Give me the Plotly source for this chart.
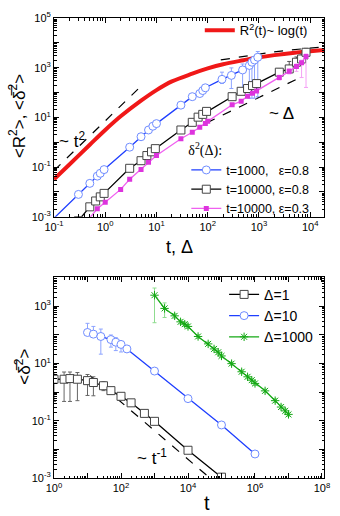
import numpy as np
import plotly.graph_objects as go

# ---------------- top panel data ----------------
red_t = [0.1, 0.2, 0.5, 1, 2, 5, 10, 20, 50, 100, 200, 500, 1000, 2000, 5000, 10000, 20000]
red_y = [0.032, 0.126, 0.79, 3.1, 11, 47, 125, 280, 575, 930, 1380, 2000, 2600, 3200, 4000, 4600, 5250]

blue_d = [0.08, 0.3, 0.5, 0.7, 0.8, 0.95, 3, 5, 7, 8.5, 10, 30, 50, 70, 80, 90,
          190, 290, 480, 650, 730, 820, 950]
blue_y = [0.00056, 0.0079, 0.022, 0.043, 0.056, 0.079, 0.63, 1.66, 3.1, 4.4, 5.6, 31, 68, 91, 120, 155,
          340, 490, 810, 1230, 1660, 2040, 2630]
blue_hi = [0.00056, 0.0079, 0.022, 0.043, 0.056, 0.079, 0.63, 1.66, 3.1, 4.4, 5.6, 31, 68, 91, 120, 155,
           660, 980, 1410, 1500, 1900, 2300, 4470]
blue_lo = [0.00056, 0.0079, 0.022, 0.043, 0.056, 0.079, 0.63, 1.66, 3.1, 4.4, 5.6, 31, 68, 91, 120, 155,
           230, 145, 126, 59, 59, 59, 68]

black_d = [0.3, 0.5, 0.65, 0.8, 0.95, 3, 5, 6.5, 8, 9.5, 30, 50, 65, 80, 95,
           300, 450, 600, 750, 900, 2500, 3900, 5400, 6800, 8300]
black_y = [0.0007, 0.0025, 0.0043, 0.0063, 0.0087, 0.089, 0.18, 0.29, 0.41, 0.55, 3.1, 6.3, 10.2, 13.2, 17.4,
           68, 112, 145, 190, 229, 660, 890, 1660, 2240, 4170]
black_hi = [0.0007, 0.0025, 0.0043, 0.0063, 0.0087, 0.089, 0.18, 0.29, 0.41, 0.55, 3.1, 6.3, 10.2, 13.2, 17.4,
            68, 112, 145, 190, 229, 890, 1780, 2700, 3550, 6000]
black_lo = [0.0007, 0.0025, 0.0043, 0.0063, 0.0087, 0.089, 0.18, 0.29, 0.41, 0.55, 3.1, 6.3, 10.2, 13.2, 17.4,
            68, 112, 145, 190, 229, 525, 710, 1120, 1410, 2240]

mag_d = [0.45, 0.7, 1, 2, 3, 5, 7, 10, 30, 50, 70, 90, 100,
         300, 450, 600, 750, 900, 2500, 3900, 5400, 6800, 8300]
mag_y = [0.0007, 0.0021, 0.0038, 0.0126, 0.032, 0.079, 0.155, 0.29, 1.38, 2.5, 4.0, 5.6, 6.9,
         32, 45, 71, 93, 115, 400, 710, 1120, 1580, 2820]
mag_hi = [0.0007, 0.0021, 0.0038, 0.0126, 0.032, 0.079, 0.155, 0.29, 1.38, 2.5, 4.0, 5.6, 6.9,
          32, 45, 71, 93, 115, 500, 890, 1410, 2000, 3550]
mag_lo = [0.0007, 0.0021, 0.0038, 0.0126, 0.032, 0.079, 0.155, 0.29, 1.38, 2.5, 4.0, 5.6, 6.9,
          32, 45, 71, 93, 115, 320, 560, 710, 400, 160]

guide_t2_x = [0.1, 4.5]
guide_t2_y = [0.072, 146]
guide_log_x = [180, 1000, 3000, 20000]
guide_log_y = [2050, 3500, 4800, 6900]
guide_lin_x = [95, 6200]
guide_lin_y = [6.0, 390]

# ---------------- bottom panel data ----------------
d1_t = [1, 2, 3, 5, 10, 15, 30, 50, 100, 200, 500, 1000, 1e4, 1e5]
d1_y = [2.8, 2.8, 2.95, 2.8, 2.5, 2.15, 1.66, 1.12, 0.71, 0.42, 0.18, 0.095, 0.0093, 0.00107]
d1_hi = [4.8, 5.0, 5.0, 4.8, 4.1, 3.4, 2.3, 1.32, 0.79, 0.42, 0.18, 0.095, 0.0093, 0.00107]
d1_lo = [0.47, 0.47, 0.47, 0.5, 0.76, 0.74, 1.12, 0.95, 0.63, 0.42, 0.18, 0.095, 0.0093, 0.00107]

d10_t = [10, 15, 25, 50, 70, 100, 150, 1000, 1e4, 1e5, 1e6]
d10_y = [120, 105, 87, 68, 55, 46, 32, 5.4, 0.59, 0.071, 0.0069]
d10_hi = [250, 195, 158, 98, 79, 56, 35, 5.4, 0.59, 0.071, 0.0069]
d10_lo = [100, 93, 21, 37, 28, 25, 30, 5.4, 0.59, 0.071, 0.0069]

d1000_t = [1000, 2000, 4000, 6000, 8000, 1e4, 2e4, 4e4, 6e4, 8e4, 1e5, 2e5, 4e5, 6e5, 8e5,
           1e6, 2e6, 4e6, 6e6, 8e6, 1e7]
d1000_y = [2400, 830, 457, 282, 234, 195, 87, 48, 32, 24.5, 18.2, 9.8, 5.1, 3.4, 2.6,
           2.0, 1.1, 0.50, 0.30, 0.22, 0.166]
d1000_hi = [4270, 1290, 540, 330, 275, 230, 100, 55, 37, 28, 21, 11.3, 5.9, 3.9, 3.0,
            2.3, 1.25, 0.58, 0.35, 0.26, 0.19]
d1000_lo = [263, 400, 380, 240, 200, 165, 75, 42, 28, 21, 15.8, 8.5, 4.4, 2.9, 2.25,
            1.7, 0.95, 0.43, 0.26, 0.19, 0.143]

guide_inv_x = [12, 6e4]
guide_inv_y = [3.75, 7.5e-4]

FONT = "Liberation Sans, Arial, sans-serif"
BLUE_L, BLUE_M = "#1f3fff", "#6f8cff"
BLACK_L, BLACK_M = "#000000", "#444444"
MAG_L, MAG_M = "#f060f0", "#dd33dd"
GREEN_L, GREEN_M = "#14a814", "#7ad87a"


def err(y, hi, lo, color):
    return dict(type="data", symmetric=False,
                array=[h - v for h, v in zip(hi, y)],
                arrayminus=[v - l for v, l in zip(y, lo)],
                color=color, thickness=1, width=2)


fig = go.Figure()

# top panel
fig.add_trace(go.Scatter(x=guide_t2_x, y=guide_t2_y, mode="lines", showlegend=False,
                         line=dict(color="black", width=1.2, dash="dash"), xaxis="x", yaxis="y"))
fig.add_trace(go.Scatter(x=guide_log_x, y=guide_log_y, mode="lines", showlegend=False,
                         line=dict(color="black", width=1.2, dash="dash", shape="spline"), xaxis="x", yaxis="y"))
fig.add_trace(go.Scatter(x=guide_lin_x, y=guide_lin_y, mode="lines", showlegend=False,
                         line=dict(color="black", width=1.2, dash="dash"), xaxis="x", yaxis="y"))
fig.add_trace(go.Scatter(x=red_t, y=red_y, mode="lines", name="R<sup>2</sup>(t)~ log(t)",
                         line=dict(color="#f01818", width=4, shape="spline"), legend="legend",
                         xaxis="x", yaxis="y"))
fig.add_trace(go.Scatter(x=blue_d, y=blue_y, mode="lines+markers",
                         name="t=1000,\u00a0\u00a0\u00a0ε=0.8", legend="legend2",
                         line=dict(color=BLUE_L, width=1.3),
                         marker=dict(symbol="circle", size=8, color="white", line=dict(color=BLUE_M, width=1)),
                         error_y=err(blue_y, blue_hi, blue_lo, "#8ea4ff"), xaxis="x", yaxis="y"))
fig.add_trace(go.Scatter(x=black_d, y=black_y, mode="lines+markers",
                         name="t=10000, ε=0.8", legend="legend2",
                         line=dict(color=BLACK_L, width=1.3),
                         marker=dict(symbol="square", size=8, color="white", line=dict(color=BLACK_M, width=1)),
                         error_y=err(black_y, black_hi, black_lo, "#555555"), xaxis="x", yaxis="y"))
fig.add_trace(go.Scatter(x=mag_d, y=mag_y, mode="lines+markers",
                         name="t=10000, ε=0.3", legend="legend2",
                         line=dict(color=MAG_L, width=1.3),
                         marker=dict(symbol="square", size=5, color=MAG_M),
                         error_y=err(mag_y, mag_hi, mag_lo, "#f5a0f5"), xaxis="x", yaxis="y"))

# bottom panel
fig.add_trace(go.Scatter(x=guide_inv_x, y=guide_inv_y, mode="lines", showlegend=False,
                         line=dict(color="black", width=1.2, dash="dash"), xaxis="x2", yaxis="y2"))
fig.add_trace(go.Scatter(x=d1_t, y=d1_y, mode="lines+markers", name="Δ=1", legend="legend3",
                         line=dict(color=BLACK_L, width=1.3),
                         marker=dict(symbol="square", size=8, color="white", line=dict(color=BLACK_M, width=1)),
                         error_y=err(d1_y, d1_hi, d1_lo, "#666666"), xaxis="x2", yaxis="y2"))
fig.add_trace(go.Scatter(x=d10_t, y=d10_y, mode="lines+markers", name="Δ=10", legend="legend3",
                         line=dict(color=BLUE_L, width=1.3),
                         marker=dict(symbol="circle", size=8, color="white", line=dict(color=BLUE_M, width=1)),
                         error_y=err(d10_y, d10_hi, d10_lo, "#8ea4ff"), xaxis="x2", yaxis="y2"))
fig.add_trace(go.Scatter(x=d1000_t, y=d1000_y, mode="lines+markers", name="Δ=1000", legend="legend3",
                         line=dict(color=GREEN_L, width=1.3),
                         marker=dict(symbol="asterisk-open", size=7, line=dict(color=GREEN_M, width=1)),
                         error_y=err(d1000_y, d1000_hi, d1000_lo, "#8fdc8f"), xaxis="x2", yaxis="y2"))


def sup(e):
    return "10<sup>%d</sup>" % e


def minor_vals(lo, hi):
    return [m * 10.0 ** e for e in range(lo, hi) for m in range(2, 10)]


def log_axis(lo, hi, label_every, rng, domain, anchor):
    vals = [10.0 ** e for e in range(lo, hi + 1)]
    text = [sup(e) if (e - lo) % label_every == 0 else "" for e in range(lo, hi + 1)]
    return dict(type="log", range=rng, domain=domain, anchor=anchor,
                tickmode="array", tickvals=vals, ticktext=text,
                ticks="inside", ticklen=5, tickwidth=1, tickcolor="black",
                minor=dict(tickmode="array", tickvals=minor_vals(lo - 1, hi + 1),
                           ticks="inside", ticklen=2.5, tickwidth=1, tickcolor="black", showgrid=False),
                showline=True, linecolor="black", linewidth=1, mirror="allticks",
                showgrid=False, zeroline=False,
                tickfont=dict(family=FONT, size=11, color="black"))


legend_common = dict(bgcolor="rgba(0,0,0,0)", borderwidth=0, xref="paper", yref="paper",
                     xanchor="left", yanchor="top", itemwidth=30, tracegroupgap=0)

fig.update_layout(
    width=340, height=516,
    margin=dict(l=54, r=10, t=10, b=38),
    paper_bgcolor="white", plot_bgcolor="white",
    font=dict(family=FONT, color="black"),
    xaxis=log_axis(-1, 4, 1, [-1, 4.27], [0, 1], "y"),
    yaxis=log_axis(-3, 5, 2, [-3, 5], [0.568, 1], "x"),
    xaxis2=log_axis(0, 8, 2, [0, 8.06], [0, 1], "y2"),
    yaxis2=log_axis(-3, 4, 2, [-3, 4], [0, 0.436], "x2"),
    legend=dict(x=0.54, y=1.006, font=dict(family=FONT, size=13), **legend_common),
    legend2=dict(x=0.49, y=0.741, font=dict(family=FONT, size=12.5),
                 title=dict(text="δ<sup>2</sup>(Δ):", font=dict(family="Liberation Serif, serif", size=14)),
                 **legend_common),
    legend3=dict(x=0.63, y=0.433, font=dict(family=FONT, size=14), **legend_common),
)

annots = [
    dict(text="<R<sup>2</sup>>, <δ\u0305<sup>2</sup>>", x=17, y=110, textangle=-90, size=17),
    dict(text="t, Δ", x=182, y=243, textangle=0, size=18),
    dict(text="<δ\u0305<sup>2</sup>>", x=22, y=365, textangle=-90, size=17),
    dict(text="t", x=210, y=503, textangle=0, size=20),
    dict(text="~ t<sup>2</sup>", x=72, y=134, textangle=0, size=17),
    dict(text="~ Δ", x=287, y=107, textangle=0, size=17),
    dict(text="~ t<sup>-1</sup>", x=154, y=457, textangle=0, size=17),
]
for a in annots:
    fig.add_annotation(text=a["text"], xref="paper", yref="paper",
                       x=(a["x"] - 54) / 276, y=(478 - a["y"]) / 468,
                       xanchor="center", yanchor="middle", showarrow=False,
                       textangle=a["textangle"], font=dict(family=FONT, size=a["size"], color="black"))

fig.write_html("out.html", config={"displayModeBar": False},
               post_script="document.body.style.margin='0';")
